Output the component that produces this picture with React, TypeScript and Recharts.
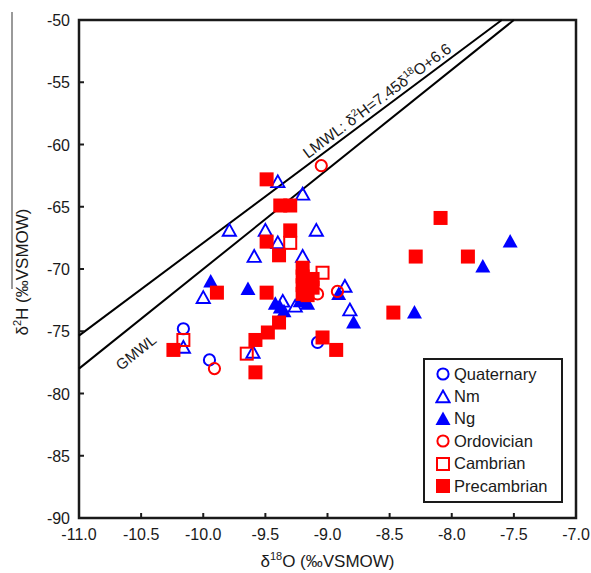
import { ScatterChart, Scatter, XAxis, YAxis, ReferenceLine, ReferenceArea, ReferenceDot, Legend } from 'recharts';

// δ18O / δ2H pairs by aquifer age
const quaternary = [
  { x: -10.16, y: -74.8 },
  { x: -9.95, y: -77.3 },
  { x: -9.08, y: -75.9 },
];

const nm = [
  { x: -9.4, y: -63.0 },
  { x: -9.2, y: -64.0 },
  { x: -9.79, y: -66.9 },
  { x: -9.5, y: -66.9 },
  { x: -9.09, y: -66.9 },
  { x: -9.4, y: -67.9 },
  { x: -9.59, y: -69.0 },
  { x: -9.2, y: -69.0 },
  { x: -10.0, y: -72.3 },
  { x: -10.16, y: -76.3 },
  { x: -9.6, y: -76.7 },
  { x: -9.36, y: -72.6 },
  { x: -9.26, y: -73.0 },
  { x: -8.86, y: -71.4 },
  { x: -8.82, y: -73.3 },
];

const ng = [
  { x: -9.94, y: -71.0 },
  { x: -9.64, y: -71.6 },
  { x: -9.42, y: -72.8 },
  { x: -9.38, y: -73.1 },
  { x: -9.35, y: -73.4 },
  { x: -9.22, y: -72.6 },
  { x: -9.16, y: -72.8 },
  { x: -8.91, y: -72.0 },
  { x: -8.79, y: -74.3 },
  { x: -8.3, y: -73.5 },
  { x: -7.75, y: -69.8 },
  { x: -7.53, y: -67.8 },
];

const ordovician = [
  { x: -9.05, y: -61.7 },
  { x: -9.91, y: -78.0 },
  { x: -8.92, y: -71.8 },
  { x: -9.08, y: -72.0 },
];

const cambrian = [
  { x: -9.3, y: -67.9 },
  { x: -9.04, y: -70.3 },
  { x: -10.16, y: -75.7 },
  { x: -9.65, y: -76.8 },
];

const precambrian = [
  { x: -9.49, y: -62.8 },
  { x: -9.38, y: -64.9 },
  { x: -9.3, y: -64.9 },
  { x: -9.3, y: -66.9 },
  { x: -9.49, y: -67.8 },
  { x: -9.39, y: -68.9 },
  { x: -9.49, y: -71.9 },
  { x: -9.89, y: -71.9 },
  { x: -10.24, y: -76.5 },
  { x: -9.39, y: -74.3 },
  { x: -9.48, y: -75.1 },
  { x: -9.58, y: -75.7 },
  { x: -9.58, y: -78.3 },
  { x: -9.04, y: -75.5 },
  { x: -8.93, y: -76.5 },
  { x: -8.09, y: -65.9 },
  { x: -8.29, y: -69.0 },
  { x: -7.87, y: -69.0 },
  { x: -8.47, y: -73.5 },
  { x: -9.2, y: -69.9 },
  { x: -9.2, y: -70.6 },
  { x: -9.2, y: -71.3 },
  { x: -9.2, y: -72.0 },
  { x: -9.12, y: -70.8 },
  { x: -9.12, y: -71.5 },
  { x: -9.16, y: -72.1 },
];

const xTicks = [-11, -10.5, -10, -9.5, -9, -8.5, -8, -7.5, -7];
const yTicks = [-90, -85, -80, -75, -70, -65, -60, -55, -50];

// meteoric water lines: δ2H = slope * δ18O + intercept
const lmwl = { slope: 7.45, intercept: 6.6 };
const gmwl = { slope: 8, intercept: 10 };

const X_MIN = -11;
const X_MAX = -7;
const Y_MIN = -90;
const Y_MAX = -50;

const W = 591;
const H = 573;
const MARGIN = { top: 20, right: 15, left: 0, bottom: 0 };
const Y_AXIS_W = 79;
const X_AXIS_H = 55;

const BLUE = '#0000FF';
const RED = '#FF0000';
const FONT = '"Liberation Sans", Arial, sans-serif';
const INK = '#1a1a1a';

type Kind = 'circle' | 'triangle' | 'triangleFill' | 'square' | 'squareFill';

function Marker({ kind, color, cx, cy }: { kind: Kind; color: string; cx: number; cy: number }) {
  switch (kind) {
    case 'circle':
      return <circle cx={cx} cy={cy} r={5.6} fill="none" stroke={color} strokeWidth={2} />;
    case 'triangle':
      return (
        <polygon
          points={`${cx},${cy - 6.5} ${cx + 6.6},${cy + 5.3} ${cx - 6.6},${cy + 5.3}`}
          fill="none"
          stroke={color}
          strokeWidth={1.9}
          strokeLinejoin="miter"
        />
      );
    case 'triangleFill':
      return <polygon points={`${cx},${cy - 7.5} ${cx + 7.5},${cy + 6} ${cx - 7.5},${cy + 6}`} fill={color} />;
    case 'square':
      return <rect x={cx - 6} y={cy - 6} width={12} height={12} fill="none" stroke={color} strokeWidth={2} />;
    default:
      return <rect x={cx - 7} y={cy - 7} width={14} height={14} fill={color} />;
  }
}

const series: { name: string; data: { x: number; y: number }[]; kind: Kind; color: string }[] = [
  { name: 'Quaternary', data: quaternary, kind: 'circle', color: BLUE },
  { name: 'Nm', data: nm, kind: 'triangle', color: BLUE },
  { name: 'Ng', data: ng, kind: 'triangleFill', color: BLUE },
  { name: 'Ordovician', data: ordovician, kind: 'circle', color: RED },
  { name: 'Cambrian', data: cambrian, kind: 'square', color: RED },
  { name: 'Precambrian', data: precambrian, kind: 'squareFill', color: RED },
];

// pixel scale of the plot area, used for the slope of the rotated line labels
const plotW = W - MARGIN.left - MARGIN.right - Y_AXIS_W;
const plotH = H - MARGIN.top - MARGIN.bottom - X_AXIS_H;
const pxPerX = plotW / (X_MAX - X_MIN);
const pxPerY = plotH / (Y_MAX - Y_MIN);
const angleOf = (slope: number) => (Math.atan((slope * pxPerY) / pxPerX) * 180) / Math.PI;

const lineEnds = (l: { slope: number; intercept: number }) => {
  const yLeft = l.slope * X_MIN + l.intercept;
  const xTop = (Y_MAX - l.intercept) / l.slope;
  return [
    { x: X_MIN, y: yLeft },
    { x: xTop, y: Y_MAX },
  ];
};

const XTick = (props: any) => {
  const { x, y, payload } = props;
  return (
    <g>
      <line x1={x} x2={x} y1={y} y2={y - 5} stroke={INK} strokeWidth={2} />
      <text x={x} y={y + 22} textAnchor="middle" fontSize={16} fontFamily={FONT} fill={INK}>
        {payload.value.toFixed(1)}
      </text>
    </g>
  );
};

const YTick = (props: any) => {
  const { x, y, payload } = props;
  return (
    <g>
      <line x1={x} x2={x + 5} y1={y} y2={y} stroke={INK} strokeWidth={2} />
      <text x={x - 9} y={y + 6} textAnchor="end" fontSize={16} fontFamily={FONT} fill={INK}>
        {payload.value}
      </text>
    </g>
  );
};

const LegendBox = () => (
  <div
    style={{
      border: `2px solid ${INK}`,
      background: '#fff',
      padding: '3px 8px 4px 10px',
      fontFamily: FONT,
      fontSize: 16.5,
      color: INK,
      boxSizing: 'border-box',
      width: 140,
    }}
  >
    {series.map((s) => (
      <div key={s.name} style={{ display: 'flex', alignItems: 'center', height: 22.4 }}>
        <svg width={16} height={16} style={{ marginRight: 3 }}>
          <Marker kind={s.kind} color={s.color} cx={8} cy={8} />
        </svg>
        <span>{s.name}</span>
      </div>
    ))}
  </div>
);

export default function App() {
  const lmwlAngle = angleOf(lmwl.slope);
  const gmwlAngle = angleOf(gmwl.slope);

  return (
    <div style={{ position: 'absolute', left: 0, top: 0, width: W, height: H, background: '#fff' }}>
      <div style={{ position: 'absolute', left: 11, top: 12, width: 1.5, height: 277, background: '#9a9a9a' }} />
      <ScatterChart width={W} height={H} margin={MARGIN}>
        <XAxis
          type="number"
          dataKey="x"
          domain={[X_MIN, X_MAX]}
          ticks={xTicks}
          height={X_AXIS_H}
          axisLine={false}
          tickLine={false}
          tickSize={0}
          tickMargin={0}
          tick={XTick}
          allowDataOverflow
          label={{
            content: (p: any) => {
              const vb = p.viewBox;
              return (
                <text x={vb.x + vb.width / 2} y={vb.y + 49} textAnchor="middle" fontSize={17} fontFamily={FONT} fill={INK}>
                  δ<tspan dy={-7} fontSize={11}>18</tspan>
                  <tspan dy={7}>O (‰VSMOW)</tspan>
                </text>
              );
            },
          }}
        />
        <YAxis
          type="number"
          dataKey="y"
          domain={[Y_MIN, Y_MAX]}
          ticks={yTicks}
          width={Y_AXIS_W}
          axisLine={false}
          tickLine={false}
          tickSize={0}
          tickMargin={0}
          tick={YTick}
          allowDataOverflow
          label={{
            content: () => (
              <text
                x={0}
                y={0}
                transform="translate(28 272) rotate(-90)"
                textAnchor="middle"
                fontSize={17}
                fontFamily={FONT}
                fill={INK}
              >
                δ<tspan dy={-7} fontSize={11}>2</tspan>
                <tspan dy={7}>H (‰VSMOW)</tspan>
              </text>
            ),
          }}
        />
        <ReferenceLine segment={lineEnds(lmwl)} stroke="#000" strokeWidth={2} />
        <ReferenceLine segment={lineEnds(gmwl)} stroke="#000" strokeWidth={2} />
        <ReferenceDot
          x={-8.6}
          y={-56.5}
          r={0}
          shape={(p: any) => (
            <text
              transform={`translate(${p.cx} ${p.cy}) rotate(${-lmwlAngle})`}
              textAnchor="middle"
              y={5}
              fontSize={15.5}
              fontFamily={FONT}
              fill={INK}
            >
              LMWL: δ<tspan dy={-6} fontSize={10}>2</tspan>
              <tspan dy={6}>H=7.45δ</tspan>
              <tspan dy={-6} fontSize={10}>18</tspan>
              <tspan dy={6}>O+6.6</tspan>
            </text>
          )}
        />
        <ReferenceDot
          x={-10.54}
          y={-76.7}
          r={0}
          shape={(p: any) => (
            <text
              transform={`translate(${p.cx} ${p.cy}) rotate(${-gmwlAngle})`}
              textAnchor="middle"
              y={5}
              fontSize={15}
              fontFamily={FONT}
              fill={INK}
            >
              GMWL
            </text>
          )}
        />
        {series.map((s) => (
          <Scatter
            key={s.name}
            name={s.name}
            data={s.data}
            isAnimationActive={false}
            shape={(p: any) => <Marker kind={s.kind} color={s.color} cx={p.cx} cy={p.cy} />}
          />
        ))}
        <ReferenceArea x1={X_MIN} x2={X_MAX} y1={Y_MIN} y2={Y_MAX} fill="none" fillOpacity={0} stroke={INK} strokeWidth={2.5} />
        <Legend
          layout="horizontal"
          verticalAlign="middle"
          align="center"
          content={<LegendBox />}
          wrapperStyle={{ left: 423, top: 358, width: 140, height: 146 }}
        />
      </ScatterChart>
    </div>
  );
}
